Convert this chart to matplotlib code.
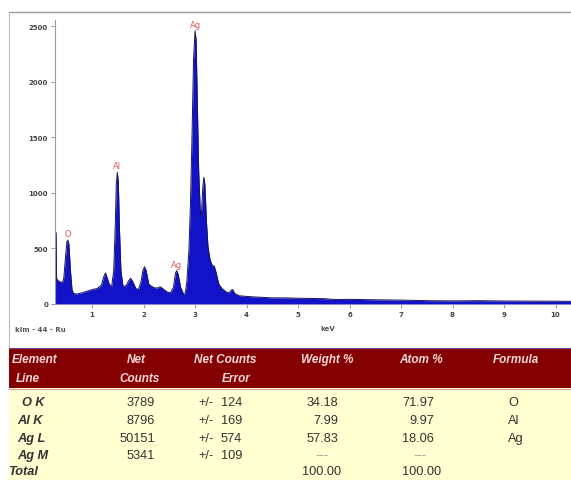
import matplotlib
matplotlib.use("Agg")
import matplotlib.pyplot as plt
from matplotlib.patches import Rectangle
from matplotlib.lines import Line2D

W, H = 571, 481

# EDS spectrum (keV, counts)
energy = [0.28, 0.29, 0.30, 0.31, 0.34, 0.38, 0.42, 0.45, 0.48, 0.51, 0.53, 0.55,
          0.58, 0.61, 0.64, 0.70, 0.80, 0.90, 1.00, 1.10, 1.18, 1.23, 1.26, 1.29,
          1.34, 1.38, 1.42, 1.45, 1.47, 1.49, 1.51, 1.53, 1.56, 1.60, 1.66, 1.71,
          1.75, 1.79, 1.85, 1.90, 1.95, 1.99, 2.02, 2.05, 2.10, 2.15, 2.22, 2.28,
          2.32, 2.37, 2.45, 2.52, 2.58, 2.62, 2.645, 2.67, 2.72, 2.78, 2.81, 2.84,
          2.88, 2.91, 2.94, 2.97, 3.00, 3.02, 3.04, 3.07, 3.10, 3.12, 3.15, 3.17,
          3.19, 3.22, 3.25, 3.29, 3.34, 3.37, 3.41, 3.46, 3.52, 3.60, 3.66, 3.70,
          3.73, 3.77, 3.85, 3.95, 4.1, 4.3, 4.5, 4.75, 5.0, 5.25, 5.5, 5.75,
          6.0, 6.5, 7.0, 7.5, 8.0, 8.5, 9.0, 9.5, 10.0, 10.3]
counts = [0, 650, 640, 230, 210, 200, 190, 230, 400, 560, 575, 540,
          300, 130, 95, 90, 100, 115, 130, 140, 170, 250, 280, 240,
          170, 160, 300, 700, 1080, 1185, 1100, 700, 300, 160, 165, 210,
          232, 200, 140, 130, 200, 310, 335, 300, 180, 160, 145, 145,
          155, 140, 110, 100, 150, 280, 300, 270, 150, 85, 100, 200,
          480, 900, 1500, 2200, 2460, 2380, 1900, 1200, 850, 780, 1050, 1140,
          1080, 750, 520, 400, 340, 345, 280, 180, 140, 110, 100, 125,
          130, 95, 75, 70, 65, 60, 55, 55, 52, 50, 48, 40,
          42, 38, 35, 30, 28, 30, 27, 26, 25, 24]

peak_names = ['O', 'Al', 'Ag', 'Ag']
peak_kev = [0.53, 1.49, 3.00, 2.645]
peak_counts = [575, 1185, 2460, 300]

x_ticks = list(range(1, 11))
y_ticks = [0, 500, 1000, 1500, 2000, 2500]

# quantification table
header_top = ['Element', 'Net', 'Net Counts', 'Weight %', 'Atom %', 'Formula']
header_bottom = ['Line', 'Counts', 'Error']
line_names = ['O K', 'Al K', 'Ag L', 'Ag M']
net_counts = ['3789', '8796', '50151', '5341']
count_err = ['124', '169', '574', '109']
weight_pct = ['34.18', '7.99', '57.83', '---']
atom_pct = ['71.97', '9.97', '18.06', '---']
formula = ['O', 'Al', 'Ag', '']
total_weight = '100.00'
total_atom = '100.00'


def fx(x):
    return x / W


def fy(y):
    return 1 - y / H


fig = plt.figure(figsize=(W / 100, H / 100), dpi=100)
fig.patch.set_facecolor('white')

# screenshot frame
fig.add_artist(Line2D([fx(9), 1], [fy(13), fy(13)], color='#999999', lw=1))
fig.add_artist(Line2D([fx(9), fx(9)], [fy(13), fy(349)], color='#bbbbbb', lw=0.8))

ax = fig.add_axes([fx(55), fy(305), 1 - fx(55), (305 - 21) / H])
ax.fill_between(energy, counts, 0, color='#1212c8', lw=0)
ax.plot(energy, counts, color='#15155a', lw=0.7)
ax.set_xlim(0.28, 10.3)
ax.set_ylim(0, 2558)
ax.set_xticks(x_ticks)
ax.set_yticks(y_ticks)
for s in ['top', 'right', 'bottom']:
    ax.spines[s].set_visible(False)
ax.spines['left'].set_color('#999999')
ax.spines['left'].set_linewidth(0.8)
ax.tick_params(direction='out', length=3, width=0.6, color='#888888',
               labelsize=5, labelcolor='#444444', pad=2)
for lab in ax.get_xticklabels() + ax.get_yticklabels():
    lab.set_fontweight('bold')
ax.patch.set_alpha(0)

for name, k, c in zip(peak_names, peak_kev, peak_counts):
    ax.annotate(name, (k, c), xytext=(0, 1.5), textcoords='offset points',
                ha='center', va='bottom', color='#e05a5a', fontsize=6)

fig.text(fx(15), fy(330), 'klm - 44 - Ru', fontsize=5, fontweight='bold',
         color='#555555', va='center')
fig.text(fx(320), fy(329), 'keV', fontsize=5, fontweight='bold',
         color='#555555', va='center')

# table background
fig.add_artist(Rectangle((fx(9), fy(389)), 1 - fx(9), (389 - 349) / H,
                         color='#840000', lw=0))
fig.add_artist(Rectangle((fx(9), 0), 1 - fx(9), fy(389),
                         color='#ffffd2', lw=0))
fig.add_artist(Line2D([fx(9), 1], [fy(349), fy(349)], color='#6a4a9a', lw=0.8))
fig.add_artist(Line2D([fx(9), 1], [fy(389.5), fy(389.5)], color='#d8a0a0', lw=0.8))

tfont = ['Liberation Sans Narrow', 'Liberation Sans', 'DejaVu Sans']
hdr = dict(color='#f5d8d8', fontsize=8.5, fontstyle='italic',
           fontweight='bold', va='center', family=tfont)
top_x = [12, 136, 225, 327, 421, 516]
top_ha = ['left', 'center', 'center', 'center', 'center', 'center']
for t, x, ha in zip(header_top, top_x, top_ha):
    fig.text(fx(x), fy(360), t, ha=ha, **hdr)
for t, x, ha in zip(header_bottom, [16, 140, 236], ['left', 'center', 'center']):
    fig.text(fx(x), fy(379), t, ha=ha, **hdr)

body = dict(color='#333333', fontsize=9.2, va='center', family=tfont)
row_y = [403, 421, 439, 456]
label_x = [22, 17, 17, 17]
for i, y in enumerate(row_y):
    fig.text(fx(label_x[i]), fy(y), line_names[i], ha='left', fontstyle='italic',
             fontweight='bold', **body)
    fig.text(fx(155), fy(y), net_counts[i], ha='right', **body)
    fig.text(fx(198), fy(y), '+/-', ha='left', **body)
    fig.text(fx(221), fy(y), count_err[i], ha='left', **body)
    if weight_pct[i] == '---':
        fig.text(fx(322), fy(y), weight_pct[i], ha='center', color='#999999',
                 fontsize=9.2, va='center', family=tfont)
        fig.text(fx(420), fy(y), atom_pct[i], ha='center', color='#999999',
                 fontsize=9.2, va='center', family=tfont)
    else:
        fig.text(fx(338), fy(y), weight_pct[i], ha='right', **body)
        fig.text(fx(434), fy(y), atom_pct[i], ha='right', **body)
    fig.text(fx(508), fy(y), formula[i], ha='left', **body)

fig.text(fx(8), fy(472), 'Total', ha='left', fontstyle='italic',
         fontweight='bold', **body)
fig.text(fx(322), fy(472), total_weight, ha='center', **body)
fig.text(fx(422), fy(472), total_atom, ha='center', **body)

fig.savefig('out.png', dpi=100)
